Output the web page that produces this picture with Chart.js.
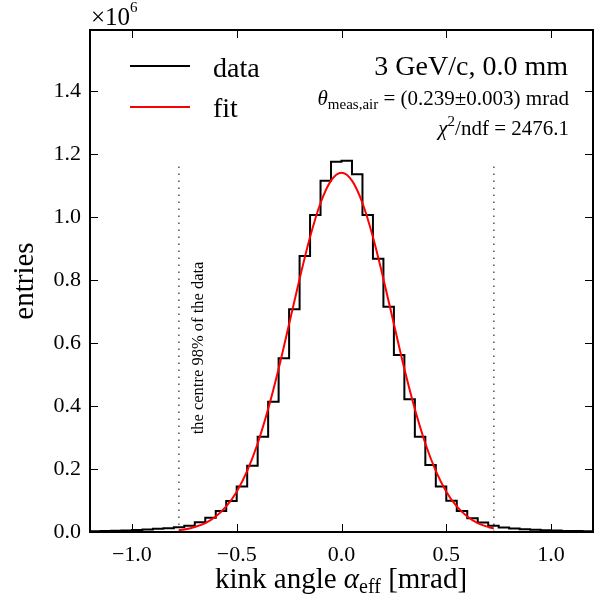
<!DOCTYPE html>
<html>
<head>
<meta charset="utf-8">
<script src="https://cdn.jsdelivr.net/npm/chart.js@4"></script>
<style>
  html, body { margin: 0; padding: 0; background: #fff; }
  #wrap { width: 600px; height: 600px; }
</style>
</head>
<body>
<div id="wrap"><canvas id="kinkChart"></canvas></div>
<script>
// histogram: 48 bins of 0.05 mrad from -1.2 to 1.2, entries in units of 10^6
const binStart = -1.2;
const binWidth = 0.05;
const histValues = [
  0.0025, 0.003, 0.004, 0.005, 0.0065, 0.008, 0.010, 0.012,
  0.015, 0.020, 0.031, 0.045, 0.067, 0.098, 0.144, 0.210,
  0.302, 0.413, 0.551, 0.707, 0.876, 1.006, 1.115, 1.175,
  1.178, 1.135, 1.006, 0.867, 0.715, 0.562, 0.421, 0.302,
  0.213, 0.144, 0.099, 0.067, 0.044, 0.030, 0.020, 0.014,
  0.011, 0.009, 0.007, 0.0055, 0.0045, 0.0035, 0.003, 0.0025
];

// gaussian fit curve
const fitX = [-0.776, -0.75, -0.7, -0.65, -0.6, -0.55, -0.5, -0.45, -0.4, -0.35, -0.3, -0.25, -0.2, -0.15, -0.1, -0.05,
  0, 0.05, 0.1, 0.15, 0.2, 0.25, 0.3, 0.35, 0.4, 0.45, 0.5, 0.55, 0.6, 0.65, 0.7, 0.727];
const fitY = [0.006, 0.008, 0.016, 0.028, 0.049, 0.081, 0.128, 0.194, 0.281, 0.390, 0.518, 0.660, 0.803, 0.936, 1.044, 1.115,
  1.140, 1.115, 1.044, 0.936, 0.803, 0.660, 0.518, 0.390, 0.281, 0.194, 0.128, 0.081, 0.049, 0.028, 0.016, 0.011];

// centre 98% limits
const cutLow = -0.776;
const cutHigh = 0.727;
const cutTop = 1.165;

const xTicks = [-1.0, -0.5, 0.0, 0.5, 1.0];
const yTicks = [0.0, 0.2, 0.4, 0.6, 0.8, 1.0, 1.2, 1.4];

const SERIF = "'Liberation Serif', 'Times New Roman', serif";

// step points at the bin edges
const histPoints = histValues.map((v, i) => ({ x: binStart + i * binWidth, y: v }));
histPoints.push({ x: binStart + histValues.length * binWidth, y: histValues[histValues.length - 1] });
const fitPoints = fitX.map((x, i) => ({ x: x, y: fitY[i] }));

function fmt(v) {
  return v.toFixed(1).replace('-', '\u2212');
}

// draws a list of text pieces one after the other
function drawRich(ctx, segs, x, y, align) {
  let total = 0;
  segs.forEach(s => { ctx.font = s.font; total += ctx.measureText(s.t).width; });
  let cx = align === 'right' ? x - total : align === 'center' ? x - total / 2 : x;
  ctx.textAlign = 'left';
  ctx.textBaseline = 'alphabetic';
  segs.forEach(s => {
    ctx.font = s.font;
    ctx.fillText(s.t, cx, y + (s.dy || 0));
    cx += ctx.measureText(s.t).width;
  });
}

const decorations = {
  id: 'decorations',
  afterDatasetsDraw(chart) {
    const ctx = chart.ctx;
    const a = chart.chartArea;
    const xs = chart.scales.x;
    const ys = chart.scales.y;
    ctx.save();
    ctx.fillStyle = '#000';
    ctx.strokeStyle = '#000';

    // inward ticks on all sides
    ctx.lineWidth = 1;
    ctx.beginPath();
    xTicks.forEach(t => {
      const px = Math.round(xs.getPixelForValue(t)) + 0.5;
      ctx.moveTo(px, a.bottom); ctx.lineTo(px, a.bottom - 8);
      ctx.moveTo(px, a.top); ctx.lineTo(px, a.top + 8);
    });
    yTicks.forEach(t => {
      const py = Math.round(ys.getPixelForValue(t)) + 0.5;
      ctx.moveTo(a.left, py); ctx.lineTo(a.left + 8, py);
      ctx.moveTo(a.right, py); ctx.lineTo(a.right - 8, py);
    });
    ctx.stroke();

    // frame
    ctx.lineWidth = 2;
    ctx.strokeRect(a.left, a.top, a.right - a.left, a.bottom - a.top);

    // multiplier
    drawRich(ctx, [
      { t: '\u00d710', font: '25px ' + SERIF },
      { t: '6', font: '15px ' + SERIF, dy: -13 }
    ], 91, 25, 'left');

    // legend
    ctx.lineWidth = 2;
    ctx.strokeStyle = '#000';
    ctx.beginPath(); ctx.moveTo(130, 66); ctx.lineTo(190, 66); ctx.stroke();
    ctx.strokeStyle = '#ff0000';
    ctx.beginPath(); ctx.moveTo(130, 107); ctx.lineTo(190, 107); ctx.stroke();
    ctx.font = '28px ' + SERIF;
    ctx.textAlign = 'left';
    ctx.textBaseline = 'alphabetic';
    ctx.fillText('data', 213, 77);
    ctx.fillText('fit', 213, 117);

    // info text
    drawRich(ctx, [{ t: '3 GeV/c, 0.0 mm', font: '28px ' + SERIF }], 568, 75, 'right');
    drawRich(ctx, [
      { t: '\u03b8', font: 'italic 21px ' + SERIF },
      { t: 'meas,air', font: '15px ' + SERIF, dy: 4 },
      { t: ' = (0.239\u00b10.003) mrad', font: '21px ' + SERIF }
    ], 569, 105, 'right');
    drawRich(ctx, [
      { t: '\u03c7', font: 'italic 21px ' + SERIF },
      { t: '2', font: '15px ' + SERIF, dy: -9 },
      { t: '/ndf = 2476.1', font: '21px ' + SERIF }
    ], 569, 135, 'right');

    // rotated note next to the left cut
    ctx.save();
    ctx.translate(xs.getPixelForValue(-0.68), ys.getPixelForValue(0.584));
    ctx.rotate(-Math.PI / 2);
    ctx.font = '16.5px ' + SERIF;
    ctx.textAlign = 'center';
    ctx.textBaseline = 'middle';
    ctx.fillText('the centre 98% of the data', 0, 0);
    ctx.restore();

    // x axis title
    drawRich(ctx, [
      { t: 'kink angle ', font: '29px ' + SERIF },
      { t: '\u03b1', font: 'italic 29px ' + SERIF },
      { t: 'eff', font: '20px ' + SERIF, dy: 5 },
      { t: ' [mrad]', font: '29px ' + SERIF }
    ], 341, 588, 'center');

    ctx.restore();
  }
};

new Chart(document.getElementById('kinkChart'), {
  type: 'line',
  data: {
    datasets: [
      {
        label: 'fit',
        data: fitPoints,
        borderColor: '#ff0000',
        borderWidth: 2,
        pointRadius: 0,
        cubicInterpolationMode: 'monotone',
        fill: false,
        order: 0
      },
      {
        label: 'data',
        data: histPoints,
        borderColor: '#000000',
        borderWidth: 2,
        pointRadius: 0,
        stepped: 'before',
        fill: false,
        order: 1
      },
      {
        label: 'cut low',
        data: [{ x: cutLow, y: 0 }, { x: cutLow, y: cutTop }],
        borderColor: '#555555',
        borderWidth: 1.5,
        borderDash: [1.5, 5.5],
        pointRadius: 0,
        order: 2
      },
      {
        label: 'cut high',
        data: [{ x: cutHigh, y: 0 }, { x: cutHigh, y: cutTop }],
        borderColor: '#555555',
        borderWidth: 1.5,
        borderDash: [1.5, 5.5],
        pointRadius: 0,
        order: 2
      }
    ]
  },
  options: {
    responsive: true,
    maintainAspectRatio: false,
    animation: false,
    layout: { padding: { left: 0, right: 7, top: 30, bottom: 0 } },
    plugins: {
      legend: { display: false },
      tooltip: { enabled: false }
    },
    scales: {
      x: {
        type: 'linear',
        min: -1.2,
        max: 1.2,
        grid: { display: false, drawTicks: false },
        border: { display: false },
        afterBuildTicks: scale => { scale.ticks = xTicks.map(v => ({ value: v })); },
        afterFit: scale => { scale.height = 68; },
        ticks: {
          padding: 10,
          color: '#000',
          font: { family: SERIF, size: 22 },
          callback: v => fmt(v)
        }
      },
      y: {
        type: 'linear',
        min: 0,
        max: 1.593,
        grid: { display: false, drawTicks: false },
        border: { display: false },
        afterBuildTicks: scale => { scale.ticks = yTicks.map(v => ({ value: v })); },
        afterFit: scale => { scale.width = 90; },
        ticks: {
          padding: 9,
          color: '#000',
          font: { family: SERIF, size: 22 },
          callback: v => fmt(v)
        },
        title: {
          display: true,
          text: 'entries',
          color: '#000',
          font: { family: SERIF, size: 29 },
          padding: { top: 8, bottom: 0 }
        }
      }
    }
  },
  plugins: [decorations]
});
</script>
</body>
</html>
